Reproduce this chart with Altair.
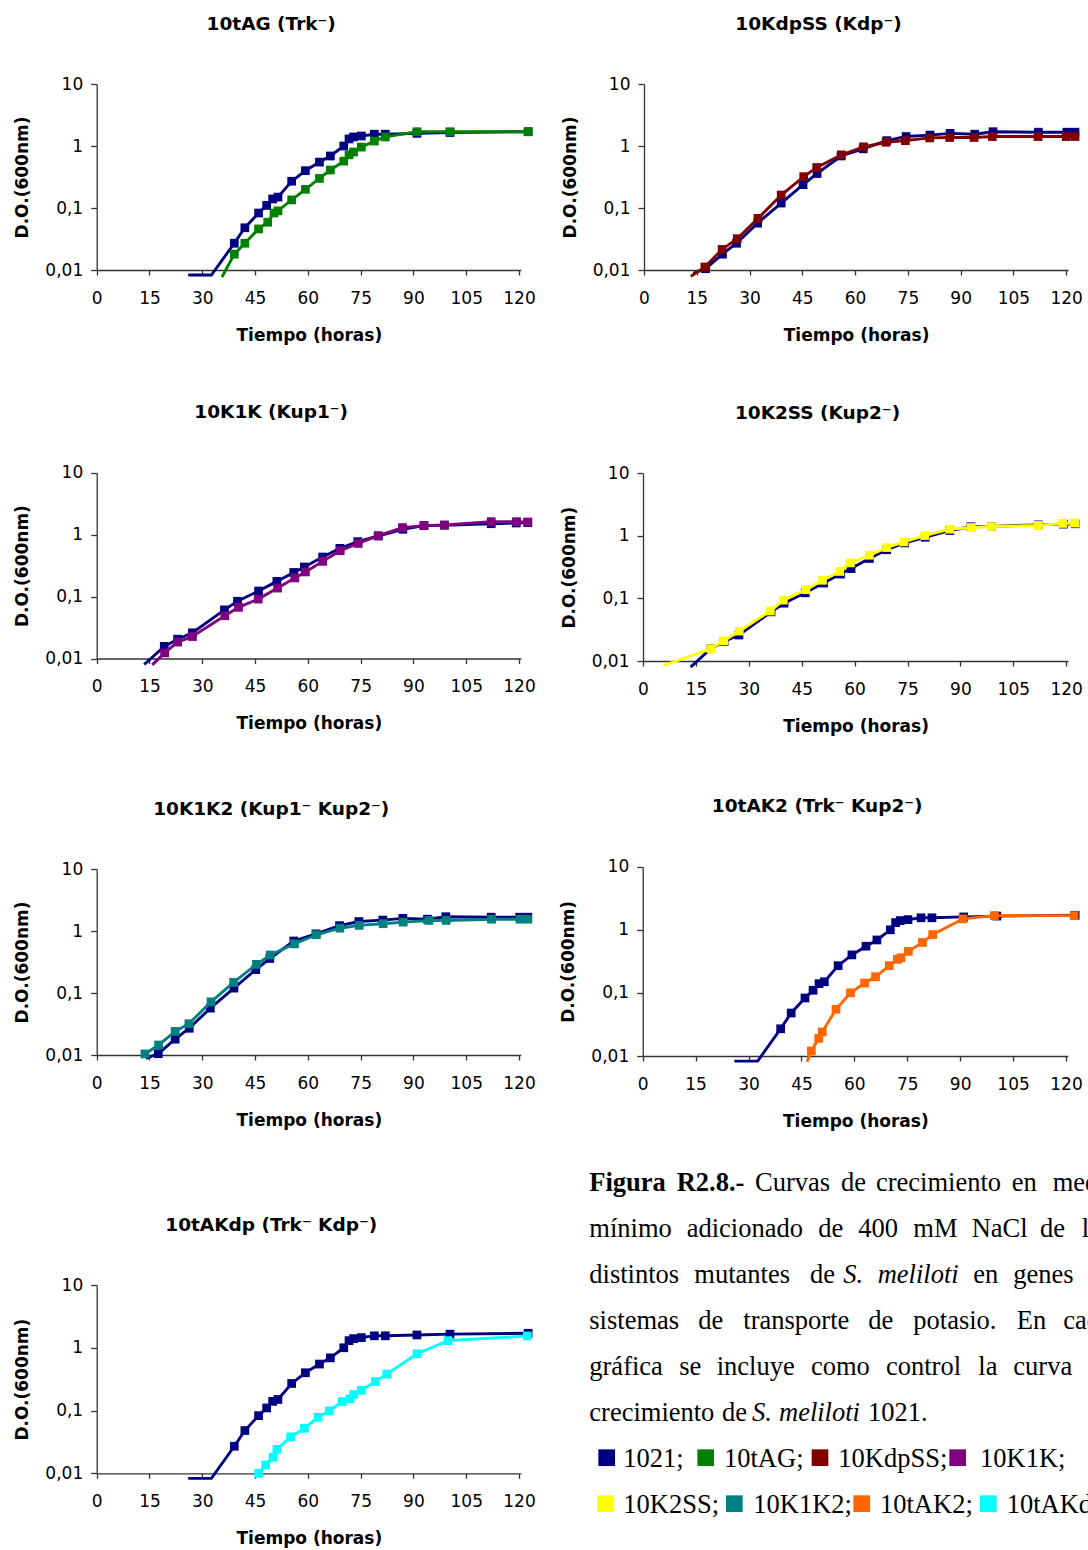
import altair as alt
import pandas as pd

SANS = "DejaVu Sans"
SERIF = "Liberation Serif"
AXIS_INK = "#333333"
W, H = 1088, 1550

# ---------------- data (hours, optical density at 600 nm) ----------------
hours_1021_a = [26.0, 32.6, 39.1, 42.1, 46.0, 48.3, 50.0, 51.5, 55.4, 59.3, 63.3, 66.4, 70.2, 71.7,
                73.0, 75.2, 78.9, 82.0, 91.0, 100.4, 122.6]
od_1021_a = [0.0083, 0.0083, 0.027, 0.048, 0.083, 0.11, 0.14, 0.15, 0.27, 0.40, 0.55, 0.69, 1.0, 1.3,
             1.4, 1.45, 1.55, 1.55, 1.6, 1.65, 1.7]

hours_1021_b = [14.0, 17.5, 22.3, 26.3, 32.3, 39.0, 45.2, 49.2, 56.0, 62.3, 69.0, 74.5, 81.3, 87.0,
                94.0, 99.2, 112.1, 120.2, 122.5]
od_1021_b = [0.0088, 0.0105, 0.018, 0.027, 0.057, 0.12, 0.238, 0.36, 0.69, 0.9, 1.22, 1.42, 1.5, 1.6,
             1.55, 1.7, 1.67, 1.67, 1.67]

hours_1021_c = [13.5, 19.2, 23.0, 27.2, 36.3, 40.0, 46.0, 51.2, 56.0, 59.0, 64.2, 69.1, 74.2, 80.0,
                87.0, 93.0, 98.8, 112.1, 119.2, 122.5]
od_1021_c = [0.008, 0.0157, 0.0205, 0.026, 0.061, 0.084, 0.123, 0.176, 0.245, 0.30, 0.435, 0.60, 0.77,
             0.95, 1.22, 1.40, 1.42, 1.50, 1.54, 1.56]

hours_10tAG = [35.6, 39.1, 42.1, 46.0, 48.6, 50.4, 51.5, 55.4, 59.3, 63.3, 66.4, 70.2, 71.7, 73.0, 75.2,
               78.9, 82.0, 91.0, 100.4, 122.6]
od_10tAG = [0.0077, 0.018, 0.027, 0.046, 0.059, 0.083, 0.09, 0.135, 0.20, 0.30, 0.41, 0.57, 0.72, 0.80,
            0.96, 1.2, 1.4, 1.7, 1.7, 1.7]

hours_10KdpSS = [13.3, 17.3, 22.2, 26.5, 32.4, 39.0, 45.4, 49.1, 56.1, 62.4, 68.8, 74.3, 81.2, 86.9,
                 93.8, 99.0, 112.0, 120.0, 122.5]
od_10KdpSS = [0.0079, 0.0112, 0.0215, 0.032, 0.068, 0.162, 0.32, 0.45, 0.72, 0.97, 1.15, 1.22, 1.35,
              1.37, 1.37, 1.42, 1.42, 1.42, 1.42]

hours_10K1K = [15.8, 19.3, 23.0, 27.2, 36.4, 40.3, 45.9, 51.4, 56.3, 59.3, 64.2, 69.2, 74.3, 80.0, 86.9,
               93.0, 98.8, 112.1, 119.3, 122.5]
od_10K1K = [0.0079, 0.0123, 0.0184, 0.0226, 0.049, 0.067, 0.091, 0.137, 0.20, 0.25, 0.37, 0.55, 0.72,
            0.96, 1.30, 1.40, 1.43, 1.62, 1.62, 1.60]

hours_10K2SS = [5.9, 19.2, 22.9, 27.3, 36.1, 39.8, 46.2, 50.9, 55.8, 58.8, 64.2, 69.1, 74.0, 79.9, 87.0,
                93.1, 98.8, 112.1, 119.0, 122.4]
od_10K2SS = [0.0085, 0.0157, 0.021, 0.030, 0.063, 0.094, 0.138, 0.195, 0.27, 0.37, 0.49, 0.65, 0.80,
             1.01, 1.28, 1.36, 1.41, 1.47, 1.58, 1.60]

hours_10K1K2 = [13.7, 17.6, 22.3, 26.2, 32.5, 38.9, 45.4, 49.3, 56.2, 62.4, 69.1, 74.6, 81.4, 87.1, 94.4,
                99.3, 112.2, 120.3, 122.5]
od_10K1K2 = [0.0104, 0.0145, 0.024, 0.032, 0.072, 0.148, 0.29, 0.41, 0.62, 0.87, 1.11, 1.23, 1.31, 1.39,
             1.48, 1.48, 1.55, 1.55, 1.55]

hours_10tAK2 = [46.6, 47.8, 49.9, 50.9, 54.8, 58.9, 62.9, 66.0, 69.9, 72.2, 73.2, 75.3, 79.3, 82.2, 90.8,
                99.7, 122.3]
od_10tAK2 = [0.0081, 0.012, 0.019, 0.024, 0.055, 0.10, 0.143, 0.18, 0.27, 0.34, 0.36, 0.455, 0.63, 0.84,
             1.49, 1.68, 1.68]

hours_10tAKdp = [46.0, 48.0, 50.1, 51.2, 55.1, 59.0, 62.9, 66.1, 69.8, 72.0, 73.0, 75.2, 79.2, 82.4, 91.0,
                 99.8, 122.4]
od_10tAKdp = [0.010, 0.0136, 0.018, 0.024, 0.038, 0.052, 0.078, 0.099, 0.139, 0.153, 0.18, 0.21, 0.29,
              0.38, 0.80, 1.30, 1.54]

x_ticks = [0, 15, 30, 45, 60, 75, 90, 105, 120]
y_ticks = [0.01, 0.1, 1, 10]

strain_names = ["1021", "10tAG", "10KdpSS", "10K1K", "10K2SS", "10K1K2", "10tAK2", "10tAKdp"]
strain_colors = ["#000080", "#008000", "#800000", "#800080", "#FFFF00", "#008080", "#FF6600", "#00FFFF"]
COLOR = dict(zip(strain_names, strain_colors))

controls = {"a": (hours_1021_a, od_1021_a), "b": (hours_1021_b, od_1021_b), "c": (hours_1021_c, od_1021_c)}
mutants = {"10tAG": (hours_10tAG, od_10tAG), "10KdpSS": (hours_10KdpSS, od_10KdpSS),
           "10K1K": (hours_10K1K, od_10K1K), "10K2SS": (hours_10K2SS, od_10K2SS),
           "10K1K2": (hours_10K1K2, od_10K1K2), "10tAK2": (hours_10tAK2, od_10tAK2),
           "10tAKdp": (hours_10tAKdp, od_10tAKdp)}

panel_titles = ["10tAG (Trk\u207b)", "10KdpSS (Kdp\u207b)", "10K1K (Kup1\u207b)", "10K2SS (Kup2\u207b)",
                "10K1K2 (Kup1\u207b Kup2\u207b)", "10tAK2 (Trk\u207b Kup2\u207b)", "10tAKdp (Trk\u207b Kdp\u207b)"]
panel_control = ["a", "b", "c", "c", "b", "a", "a"]
panel_mutant = ["10tAG", "10KdpSS", "10K1K", "10K2SS", "10K1K2", "10tAK2", "10tAKdp"]

# ---------------- layout (pixel frame of each plot area) ----------------
# (x at 0 h, x at 120 h, y at OD 10, y at OD 0.01)
frames = [
    (96.7, 519.0, 84.0, 270.0),
    (644.0, 1066.2, 84.0, 270.0),
    (96.7, 519.0, 472.7, 658.5),
    (643.0, 1066.2, 473.3, 661.0),
    (96.7, 519.0, 869.0, 1055.0),
    (642.7, 1066.0, 866.7, 1056.0),
    (96.7, 519.0, 1285.0, 1473.3),
]
X_END = 120.5


def make_panel(i):
    x0, x120, ytop, ybot = frames[i]
    xr1 = x0 + (x120 - x0) * X_END / 120.0
    xs = alt.Scale(domain=[0, X_END], range=[x0, xr1], nice=False, zero=False)
    ys = alt.Scale(type="log", domain=[0.01, 10], range=[ybot, ytop], nice=False)
    xaxis = alt.Axis(orient="bottom", offset=ybot - H, values=x_ticks, grid=False,
                     tickSize=5, labelPadding=15, labelFlush=False, labelBaseline="top",
                     title="Tiempo (horas)", titleX=(x0 + x120) / 2 + 1, titleY=65,
                     titleBaseline="middle", titleAlign="center")
    yaxis = alt.Axis(orient="left", offset=-x0, values=y_ticks, grid=False,
                     tickSize=6, labelPadding=8, labelBaseline="middle",
                     labelExpr="replace(format(datum.value, ''), '.', ',')",
                     title="D.O.(600nm)", titleX=-74, titleY=(ytop + ybot) / 2,
                     titleAngle=-90, titleBaseline="middle", titleAlign="center")
    enc = dict(x=alt.X("h:Q", scale=xs, axis=xaxis), y=alt.Y("od:Q", scale=ys, axis=yaxis))

    layers = []
    for name, (hh, oo) in [("1021", controls[panel_control[i]]),
                           (panel_mutant[i], mutants[panel_mutant[i]])]:
        df = pd.DataFrame({"h": hh, "od": oo})
        base = alt.Chart(df)
        layers.append(base.mark_line(color=COLOR[name], strokeWidth=2.9).encode(**enc))
        layers.append(base.transform_filter("datum.od >= 0.0095")
                      .mark_point(shape="square", filled=True, size=76, opacity=1,
                                  color=COLOR[name], strokeWidth=0)
                      .encode(**enc))
    return alt.layer(*layers)


panels = [make_panel(i) for i in range(len(frames))]

# panel titles
title_df = pd.DataFrame({
    "t": panel_titles,
    "x": [f[0] + 174.5 for f in frames],
    "y": [f[2] - 60.5 for f in frames],
})
titles = alt.Chart(title_df).mark_text(font=SANS, fontSize=18.5, fontWeight="bold", color="black",
                                       align="center", baseline="middle").encode(
    x=alt.X("x:Q", scale=None, axis=None), y=alt.Y("y:Q", scale=None, axis=None), text="t:N")

# ---------------- caption (justified words placed on their lines) ----------------
LINE0 = 1190.7
LSTEP = 46.0
CAP_SIZE = 26.5
cap_words = [
    ("Figura", 589.3, 0, "b"), ("R2.8.-", 676.7, 0, "b"), ("Curvas", 755.0, 0, "n"), ("de", 841.0, 0, "n"),
    ("crecimiento", 876.0, 0, "n"), ("en", 1011.7, 0, "n"), ("medio", 1052.7, 0, "n"),
    ("mínimo", 589.3, 1, "n"), ("adicionado", 686.7, 1, "n"), ("de", 818.3, 1, "n"), ("400", 858.3, 1, "n"),
    ("mM", 913.3, 1, "n"), ("NaCl", 971.7, 1, "n"), ("de", 1040.0, 1, "n"), ("los", 1081.7, 1, "n"),
    ("distintos", 589.3, 2, "n"), ("mutantes", 694.3, 2, "n"), ("de", 810.0, 2, "n"), ("S.", 843.3, 2, "i"),
    ("meliloti", 877.7, 2, "i"), ("en", 973.3, 2, "n"), ("genes", 1013.3, 2, "n"),
    ("sistemas", 589.3, 3, "n"), ("de", 698.3, 3, "n"), ("transporte", 743.3, 3, "n"), ("de", 868.3, 3, "n"),
    ("potasio.", 913.3, 3, "n"), ("En", 1016.7, 3, "n"), ("cada", 1063.3, 3, "n"),
    ("gráfica", 589.3, 4, "n"), ("se", 679.3, 4, "n"), ("incluye", 716.7, 4, "n"), ("como", 811.0, 4, "n"),
    ("control", 886.0, 4, "n"), ("la", 978.3, 4, "n"), ("curva", 1013.3, 4, "n"),
    ("crecimiento", 589.3, 5, "n"), ("de", 722.0, 5, "n"), ("S.", 752.0, 5, "i"), ("meliloti", 779.0, 5, "i"),
    ("1021.", 868.0, 5, "n"),
]
cap_df = pd.DataFrame(cap_words, columns=["w", "x", "line", "style"])
cap_df["y"] = LINE0 + LSTEP * cap_df["line"]


def cap_layer(style, **mk):
    return alt.Chart(cap_df[cap_df["style"] == style]).mark_text(
        font=SERIF, fontSize=CAP_SIZE, color="black", align="left", baseline="alphabetic", **mk).encode(
        x=alt.X("x:Q", scale=None, axis=None), y=alt.Y("y:Q", scale=None, axis=None), text="w:N")


cap_normal = cap_layer("n")
cap_bold = cap_layer("b", fontWeight="bold")
cap_italic = cap_layer("i", fontStyle="italic")

# legend rows in the caption
leg_names = ["1021", "10tAG", "10KdpSS", "10K1K", "10K2SS", "10K1K2", "10tAK2", "10tAKdp"]
leg_labels = ["1021;", "10tAG;", "10KdpSS;", "10K1K;", "10K2SS;", "10K1K2;", "10tAK2;", "10tAKdp"]
leg_square_x = [606.7, 705.7, 820.0, 957.7, 605.7, 734.3, 861.7, 988.3]
leg_text_x = [623.3, 724.0, 838.3, 980.0, 623.3, 753.3, 880.0, 1006.7]
leg_line = [6, 6, 6, 6, 7, 7, 7, 7]
leg_df = pd.DataFrame({"name": leg_names, "label": leg_labels, "sx": leg_square_x, "tx": leg_text_x,
                       "line": leg_line})
leg_df["col"] = [COLOR[n] for n in leg_df["name"]]
leg_df["ty"] = LINE0 + LSTEP * leg_df["line"]
leg_df["sy"] = leg_df["ty"] - 9.0

leg_squares = alt.Chart(leg_df).mark_point(shape="square", filled=True, size=279, opacity=1,
                                           strokeWidth=0).encode(
    x=alt.X("sx:Q", scale=None, axis=None), y=alt.Y("sy:Q", scale=None, axis=None),
    color=alt.Color("col:N", scale=None, legend=None))
leg_text = alt.Chart(leg_df).mark_text(font=SERIF, fontSize=CAP_SIZE, color="black", align="left",
                                       baseline="alphabetic").encode(
    x=alt.X("tx:Q", scale=None, axis=None), y=alt.Y("ty:Q", scale=None, axis=None), text="label:N")

chart = alt.layer(*panels, titles, cap_normal, cap_bold, cap_italic, leg_squares, leg_text).resolve_scale(
    x="independent", y="independent"
).properties(
    width=W, height=H, autosize=alt.AutoSizeParams(type="none"), padding=0, background="white"
).configure_view(stroke=None).configure_axis(
    domainColor=AXIS_INK, domainWidth=1.3, tickColor=AXIS_INK, tickWidth=1.3,
    labelFont=SANS, labelFontSize=17, labelColor="black",
    titleFont=SANS, titleFontSize=17, titleFontWeight="bold", titleColor="black",
)

chart.save("out.html", embed_options={"renderer": "svg", "actions": False})
